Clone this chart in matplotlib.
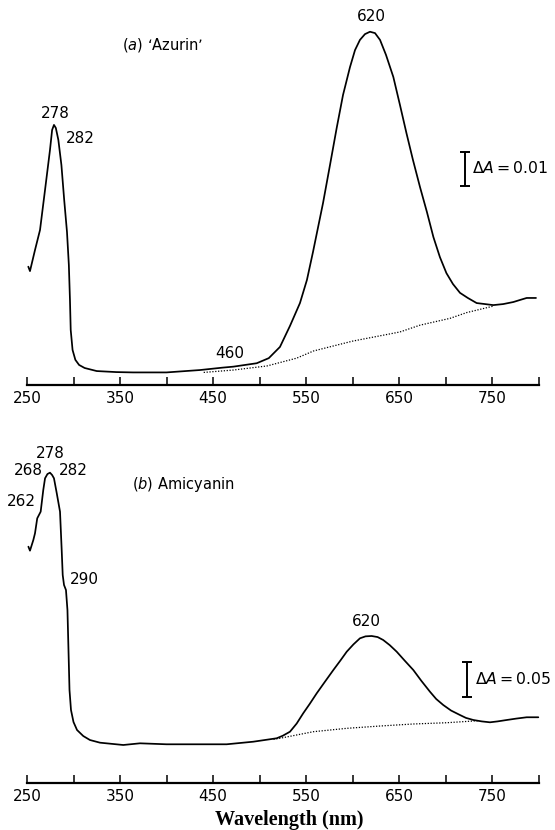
import matplotlib
matplotlib.use("Agg")
import matplotlib.pyplot as plt

plt.rcParams['font.family'] = ['DejaVu Sans']
plt.rcParams['mathtext.fontset'] = 'dejavusans'

# ---------- data (absorbance in milli-absorbance units above the axis) ----------
# (a) 'Azurin' spectrum
azurin_wl = [251.4, 253.2, 258.6, 264, 269.4, 274.7, 277, 279, 281, 283.7, 287, 290, 293, 295,
             296.2, 297, 299, 302, 306, 312, 325, 346, 364, 400, 436, 460, 472, 497, 510, 522,
             532.8, 543.5, 551, 557.5, 568.3, 575.8, 583, 589.8, 597.3, 602.7, 608, 613.4,
             618.8, 624.2, 629.6, 636, 643.9, 651, 658, 665, 672.6, 680, 687, 694, 701, 708,
             715.6, 724, 733.5, 742.5, 751.4, 762, 772.9, 780, 787.3, 797.3]
azurin_abs = [34.8, 33.5, 39.7, 45.6, 57.4, 69.1, 75.0, 76.5, 75.6, 72.1, 64.7, 54.4, 45.0, 35.3,
              25.0, 16.2, 10.3, 7.4, 5.9, 5.0, 4.1, 3.8, 3.7, 3.7, 4.4, 5.1, 5.4, 6.4, 7.9, 11.2,
              17.4, 24.1, 30.9, 39.1, 53.5, 64.7, 75.6, 85.3, 93.5, 98.5, 101.5, 103.2,
              103.9, 103.5, 101.5, 97.1, 90.6, 82.4, 74.1, 66.2, 58.2, 50.9, 43.5, 37.6, 32.9, 29.7,
              27.1, 25.6, 24.1, 23.8, 23.5, 23.8, 24.4, 25.0, 25.6, 25.6]
azurin_base_wl = [440, 472, 508, 540, 558, 600, 651, 672.6, 704.8, 722.8, 751.4]
azurin_base_abs = [3.7, 4.4, 5.6, 7.9, 10.0, 12.9, 15.6, 17.6, 19.6, 21.3, 23.2]

# (b) Amicyanin spectrum
amicy_wl = [251.5, 253.2, 256.8, 258.6, 261, 264.7, 267.5, 269.4, 272, 274.7, 277, 279, 282,
            285.5, 287.3, 288.4, 289.8, 291.9, 293.5, 294.6, 295.7, 297.3, 300, 303.8, 310.5,
            317.7, 328.5, 353.5, 371.5, 400, 464.7, 493.3, 518.5, 525, 532.8, 540, 547, 554,
            561.5, 570, 579.4, 587, 593.8, 601, 608, 614, 620.6, 627, 633, 640, 647.5, 656,
            665.4, 674, 683.3, 690, 697.6, 706, 715.6, 722, 730, 739, 747.8, 756, 765.8, 776,
            787.3, 799.8]
amicy_abs = [337.6, 331.9, 347.1, 356.7, 378.1, 387.6, 418.6, 435.3, 441.4, 443.3, 440, 435.3,
             413.9, 387.6, 332.9, 297.1, 282.9, 275.7, 247.1, 190, 132.9, 104.3, 87.1, 75.7,
             67.1, 61.4, 57.6, 54.3, 56.7, 55.3, 55.3, 59.0, 63.9, 67.5, 73.3, 85, 99.6, 113,
             128.1, 144, 161.4, 175, 187.6, 198, 206.7, 209.5, 210, 208.5, 204.3, 197, 187.6, 175,
             161.4, 146, 130.4, 120, 111.4, 103.5, 97.1, 93, 90, 88, 86.7, 88, 90, 92,
             93.9, 93.9]
amicy_base_wl = [515, 522, 558, 593.8, 629.6, 665.4, 701.3, 735]
amicy_base_abs = [62.5, 63.9, 73.3, 78.1, 81.4, 84.3, 86.1, 89.0]

tick_major = [250, 350, 450, 550, 650, 750]
tick_minor = [300, 400, 500, 600, 700, 800]

W, H = 555, 830
fig = plt.figure(figsize=(W / 100, H / 100), dpi=100)
fig.patch.set_facecolor('white')

FS = 11      # numbers
FSN = 10.5   # names
LW = 1.25


def style_axis(ax):
    for s in ['top', 'right', 'left']:
        ax.spines[s].set_visible(False)
    ax.spines['bottom'].set_linewidth(1.6)
    ax.set_xlim(250, 800)
    ax.set_xticks(tick_major)
    ax.set_xticks(tick_minor, minor=True)
    ax.set_xticklabels([str(t) for t in tick_major], fontsize=FS)
    ax.tick_params(axis='x', which='both', direction='in', length=6, width=1.1, pad=4)
    ax.set_yticks([])
    ax.patch.set_alpha(0)


# ---------------- panel (a) ----------------
ax1 = fig.add_axes([27 / W, (H - 385) / H, 511.5 / W, 375 / H])
style_axis(ax1)
ax1.set_ylim(0, 375 / 3.4)
ax1.plot(azurin_wl, azurin_abs, color='black', lw=LW, clip_on=False,
         solid_joinstyle='round', solid_capstyle='round')
ax1.plot(azurin_base_wl, azurin_base_abs, color='black', lw=0.9, ls=(0, (1, 1.3)), clip_on=False)
ax1.text(396, 100, "($\\mathit{a}$) ‘Azurin’", ha='center', va='center', fontsize=FSN)
ax1.text(620.6, 108.3, "620", ha='center', va='center', fontsize=FS)
ax1.text(280.1, 79.9, "278", ha='center', va='center', fontsize=FS)
ax1.text(307, 72.6, "282", ha='center', va='center', fontsize=FS)
ax1.text(468.3, 9.4, "460", ha='center', va='center', fontsize=FS)
ax1.plot([721, 721], [58.6, 68.6], color='black', lw=1.4, solid_capstyle='butt')
ax1.plot([721, 721], [58.6, 68.6], color='black', lw=0, marker='_', ms=7, mew=1.4)
ax1.text(729, 63.7, r"$\Delta A = 0.01$", ha='left', va='center', fontsize=11.3)

# ---------------- panel (b) ----------------
ax2 = fig.add_axes([27 / W, 47 / H, 511.5 / W, 343 / H])
style_axis(ax2)
ax2.set_ylim(0, 343 / 0.7)
ax2.plot(amicy_wl, amicy_abs, color='black', lw=LW, clip_on=False,
         solid_joinstyle='round', solid_capstyle='round')
ax2.plot(amicy_base_wl, amicy_base_abs, color='black', lw=0.9, ls=(0, (1, 1.3)), clip_on=False)
ax2.text(274.7, 471, "278", ha='center', va='center', fontsize=FS)
ax2.text(251.4, 446.1, "268", ha='center', va='center', fontsize=FS)
ax2.text(299.8, 446.1, "282", ha='center', va='center', fontsize=FS)
ax2.text(243.9, 401.9, "262", ha='center', va='center', fontsize=FS)
ax2.text(312, 291, "290", ha='center', va='center', fontsize=FS)
ax2.text(417.7, 426.7, "($\\mathit{b}$) Amicyanin", ha='center', va='center', fontsize=FSN)
ax2.text(615.3, 230.4, "620", ha='center', va='center', fontsize=FS)
ax2.plot([722.8, 722.8], [123.3, 173.3], color='black', lw=1.4, solid_capstyle='butt')
ax2.plot([722.8, 722.8], [123.3, 173.3], color='black', lw=0, marker='_', ms=7, mew=1.4)
ax2.text(731.2, 148, r"$\Delta A = 0.05$", ha='left', va='center', fontsize=11.3)

fig.text(289 / W, 10 / H, "Wavelength (nm)", ha='center', va='center',
         fontsize=14.5, fontweight='bold', family=['Liberation Serif', 'DejaVu Serif'])

fig.savefig("out.png", dpi=100, facecolor='white')
